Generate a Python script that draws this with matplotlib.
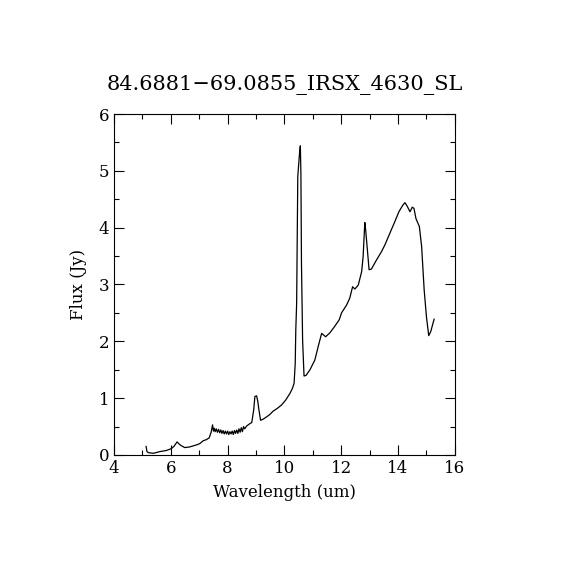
import matplotlib
matplotlib.use("Agg")
import matplotlib.pyplot as plt
from matplotlib.ticker import MultipleLocator

title = "84.6881\u221269.0855_IRSX_4630_SL"

wavelength = [5.13, 5.16, 5.21, 5.39, 5.62, 5.85, 6.01, 6.11, 6.22, 6.30, 6.38, 6.49, 6.65, 6.79, 6.92, 7.02,
              7.14, 7.25, 7.35, 7.42, 7.47, 7.50, 7.53, 7.56, 7.60, 7.64, 7.68, 7.72, 7.76, 7.80, 7.84, 7.88,
              7.92, 7.96, 8.00, 8.04, 8.08, 8.12, 8.16, 8.20, 8.24, 8.28, 8.32, 8.36, 8.40, 8.44, 8.48, 8.52,
              8.56, 8.60, 8.67, 8.78, 8.85, 8.92, 8.96, 9.02, 9.06, 9.10, 9.16, 9.25, 9.37, 9.48, 9.60, 9.75,
              9.90, 10.05, 10.19, 10.28, 10.34, 10.38, 10.40, 10.43, 10.47, 10.50, 10.53, 10.56, 10.58, 10.60,
              10.64, 10.69, 10.76, 10.90, 11.07, 11.19, 11.31, 11.45, 11.60, 11.78, 11.93, 12.01, 12.19, 12.30,
              12.40, 12.48, 12.60, 12.72, 12.77, 12.83, 12.86, 12.91, 12.98, 13.06, 13.24, 13.42, 13.54, 13.71,
              13.89, 14.03, 14.16, 14.24, 14.32, 14.42, 14.50, 14.56, 14.63, 14.75, 14.83, 14.92, 15.00, 15.08,
              15.15, 15.27]
flux = [0.15, 0.06, 0.04, 0.03, 0.06, 0.08, 0.11, 0.15, 0.23, 0.19, 0.16, 0.13, 0.14, 0.16, 0.18, 0.20,
        0.25, 0.27, 0.30, 0.40, 0.53, 0.42, 0.47, 0.41, 0.46, 0.40, 0.45, 0.39, 0.44, 0.38, 0.43, 0.37,
        0.42, 0.37, 0.42, 0.36, 0.41, 0.37, 0.42, 0.36, 0.43, 0.38, 0.44, 0.38, 0.46, 0.40, 0.48, 0.41,
        0.50, 0.46, 0.51, 0.55, 0.57, 0.80, 1.03, 1.04, 0.95, 0.80, 0.61, 0.63, 0.67, 0.71, 0.77, 0.82,
        0.88, 0.97, 1.08, 1.17, 1.26, 1.61, 2.20, 2.67, 4.90, 5.10, 5.30, 5.44, 4.96, 3.37,
        2.02, 1.39, 1.40, 1.50, 1.67, 1.91, 2.14, 2.08, 2.15, 2.27, 2.38, 2.50, 2.64, 2.76,
        2.96, 2.92, 2.99, 3.23, 3.49, 4.09, 3.96, 3.67, 3.26, 3.27, 3.43, 3.58, 3.70, 3.90,
        4.11, 4.28, 4.39, 4.44, 4.38, 4.28, 4.36, 4.34, 4.16, 4.02, 3.67, 2.90, 2.43, 2.10,
        2.17, 2.39]

xlabel = "Wavelength (um)"
ylabel = "Flux (Jy)"

plt.rcParams['font.family'] = ['DejaVu Serif']

fig = plt.figure(figsize=(5.7, 5.7), dpi=100)
ax = fig.add_axes([0.2, 0.2018, 0.598, 0.5982])
ax.plot(wavelength, flux, color='black', linewidth=0.9)
ax.set_xlim(4, 16)
ax.set_ylim(0, 6)
ax.xaxis.set_major_locator(MultipleLocator(2))
ax.xaxis.set_minor_locator(MultipleLocator(1))
ax.yaxis.set_major_locator(MultipleLocator(1))
ax.yaxis.set_minor_locator(MultipleLocator(0.5))
ax.tick_params(which='both', direction='in', top=True, right=True, labelsize=12, width=0.8)
ax.tick_params(which='major', length=7)
ax.tick_params(which='minor', length=3.5)
for s in ax.spines.values():
    s.set_linewidth(0.8)
ax.set_xlabel(xlabel, fontsize=12, labelpad=5)
ax.set_ylabel(ylabel, fontsize=12, labelpad=8)
ax.set_title(title, fontsize=15, pad=17)
fig.savefig("out.png", dpi=100, facecolor='white')
